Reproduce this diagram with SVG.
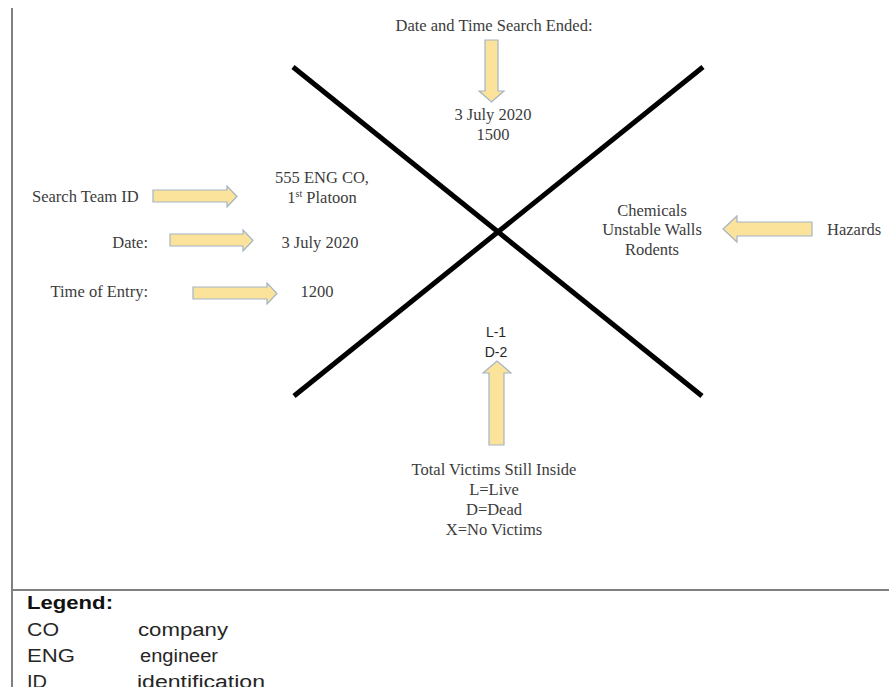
<svg xmlns="http://www.w3.org/2000/svg" width="889" height="687" viewBox="0 0 889 687">
  <style>
    .serif { font-family: "Liberation Serif", "Times New Roman", serif; font-size: 16.5px; fill: #3c3c3c; }
    .sans { font-family: "Liberation Sans", Arial, sans-serif; fill: #262626; }
    .mid { text-anchor: middle; }
    .end { text-anchor: end; }
    .arrow { fill: #fbe39c; stroke: #a3b4c4; stroke-width: 1.2; stroke-linejoin: miter; }
    .cross { stroke: #000; stroke-width: 5; stroke-linecap: butt; fill: none; }
    .frame { stroke: #808080; stroke-width: 2; fill: none; }
  </style>

  <rect width="889" height="687" fill="#fff"/>

  <!-- page frame -->
  <g id="frame">
    <line class="frame" x1="12" y1="8" x2="12" y2="687"/>
    <line class="frame" x1="12" y1="590" x2="889" y2="590"/>
  </g>

  <!-- search marking X -->
  <g id="connectors">
    <line class="cross" x1="293" y1="67" x2="702" y2="396"/>
    <line class="cross" x1="703" y1="67" x2="294" y2="396"/>
  </g>

  <!-- top: search end -->
  <g id="top-label">
    <text class="serif mid" x="494" y="31">Date and Time Search Ended:</text>
  </g>
  <g id="top-arrow">
    <polygon class="arrow" points="485,40 498,40 498,91 504,91 491.5,102 479,91 485,91"/>
  </g>
  <g id="top-value">
    <text class="serif mid" x="493" y="120">3 July 2020</text>
    <text class="serif mid" x="493" y="140">1500</text>
  </g>

  <!-- left: team ID -->
  <g id="team-label">
    <text class="serif" x="32" y="202">Search Team ID</text>
  </g>
  <g id="team-arrow">
    <polygon class="arrow" points="153,190 227,190 227,186 237,196.5 227,207 227,202 153,202"/>
  </g>
  <g id="team-value">
    <text class="serif mid" x="322" y="183">555 ENG CO,</text>
    <text class="serif mid" x="322" y="203">1<tspan font-size="10" dy="-6">st</tspan><tspan dy="6"> Platoon</tspan></text>
  </g>

  <!-- left: date -->
  <g id="date-label">
    <text class="serif end" x="148" y="248">Date:</text>
  </g>
  <g id="date-arrow">
    <polygon class="arrow" points="170,234 243,234 243,230 253,240.5 243,251 243,246 170,246"/>
  </g>
  <g id="date-value">
    <text class="serif mid" x="320" y="248">3 July 2020</text>
  </g>

  <!-- left: time of entry -->
  <g id="entry-label">
    <text class="serif end" x="148" y="297">Time of Entry:</text>
  </g>
  <g id="entry-arrow">
    <polygon class="arrow" points="193,287 267,287 267,283 277,293.5 267,304 267,299 193,299"/>
  </g>
  <g id="entry-value">
    <text class="serif mid" x="317" y="297">1200</text>
  </g>

  <!-- right: hazards -->
  <g id="hazards-value">
    <text class="serif mid" x="652" y="216">Chemicals</text>
    <text class="serif mid" x="652" y="235">Unstable Walls</text>
    <text class="serif mid" x="652" y="255">Rodents</text>
  </g>
  <g id="hazards-arrow">
    <polygon class="arrow" points="812,222 737,222 737,216 723,229 737,242 737,236 812,236"/>
  </g>
  <g id="hazards-label">
    <text class="serif" x="827" y="235">Hazards</text>
  </g>

  <!-- bottom: victims -->
  <g id="victims-value">
    <text class="sans mid" font-size="14" x="496" y="337">L-1</text>
    <text class="sans mid" font-size="14" x="496" y="357">D-2</text>
  </g>
  <g id="victims-arrow">
    <polygon class="arrow" points="489,445 504,445 504,373 511,373 497,361 483,373 489,373"/>
  </g>
  <g id="victims-label">
    <text class="serif mid" x="494" y="475">Total Victims Still Inside</text>
    <text class="serif mid" x="494" y="495">L=Live</text>
    <text class="serif mid" x="494" y="515">D=Dead</text>
    <text class="serif mid" x="494" y="535">X=No Victims</text>
  </g>

  <!-- legend -->
  <g id="legend" class="sans" font-size="18">
    <text x="27" y="609" font-weight="bold" fill="#111" textLength="86" lengthAdjust="spacingAndGlyphs">Legend:</text>
    <text x="27" y="636" textLength="32" lengthAdjust="spacingAndGlyphs">CO</text>
    <text x="138" y="636" textLength="90" lengthAdjust="spacingAndGlyphs">company</text>
    <text x="27" y="662" textLength="48" lengthAdjust="spacingAndGlyphs">ENG</text>
    <text x="140" y="662" textLength="78" lengthAdjust="spacingAndGlyphs">engineer</text>
    <text x="27" y="688" textLength="20" lengthAdjust="spacingAndGlyphs">ID</text>
    <text x="137" y="688" textLength="128" lengthAdjust="spacingAndGlyphs">identification</text>
  </g>
</svg>
